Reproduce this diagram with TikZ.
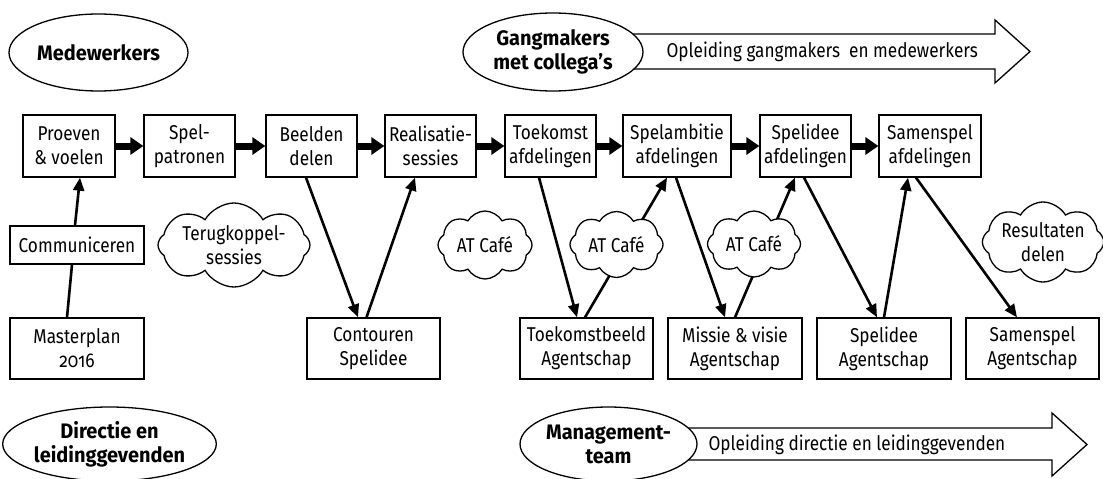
\documentclass[tikz,border=0pt]{standalone}
\usepackage{fontspec}
\setmainfont{Fira Sans}[FakeStretch=0.86, Numbers=OldStyle, BoldFeatures={FakeStretch=0.95}]
\usetikzlibrary{shapes.geometric,shapes.symbols,arrows.meta}

\begin{document}
\begin{tikzpicture}[x=1pt,y=-1pt,
  font=\fontsize{20}{24}\selectfont,
  box/.style={draw, line width=1.3pt, inner sep=0pt, align=center, minimum height=62pt},
  lowbox/.style={box, minimum height=61pt},
  group/.style={draw, ellipse, line width=1.3pt, fill=white, inner sep=0pt, align=center,
                font=\fontsize{21}{24}\selectfont\bfseries},
  idea/.style={cloud, cloud puffs=8, cloud puff arc=120, cloud ignores aspect, draw,
               line width=1.3pt, fill=white, inner sep=0pt, align=center},
  link/.style={line width=2.6pt, -{Triangle[length=13pt,width=11pt]}},
  plain/.style={line width=2.6pt},
  flow/.style={line width=7pt, -{Triangle[length=13pt,width=17pt]}},
  track/.style={draw, line width=1.3pt, fill=white, line join=miter}
]
\useasboundingbox (0,0) rectangle (1103,479);

% training tracks (block arrows), partly covered by the group ellipses
\draw[track] (600,34) -- (995,34) -- (995,20) -- (1030,51.5) -- (995,83) -- (995,69) -- (600,69) -- cycle;
\draw[track] (650,428) -- (1052,428) -- (1052,413) -- (1087,444.5) -- (1052,476) -- (1052,460) -- (650,460) -- cycle;
\node[anchor=west] (trackA) at (663,52) {Opleiding gangmakers\ \ en medewerkers};
\node[anchor=west] (trackB) at (705,445) {Opleiding directie en leidinggevenden};

% groups
\node[group, minimum width=179pt, minimum height=77pt] (medewerkers) at (98.5,52.5) {Medewerkers};
\node[group, minimum width=180pt, minimum height=78pt] (gangmakers) at (553,52) {Gangmakers\\met collega's};
\node[group, minimum width=199pt, minimum height=74pt] (directie) at (109.5,444) {Directie en\\leidinggevenden};
\node[group, minimum width=177pt, minimum height=74pt] (management) at (608.5,444) {Management-\\team};

% main process row
\node[box, minimum width=92pt]  (proeven)     at (69,146)    {Proeven\\\& voelen};
\node[box, minimum width=91pt]  (spel)        at (189.5,146) {Spel-\\patronen};
\node[box, minimum width=91pt]  (beelden)     at (311.5,146) {Beelden\\delen};
\node[box, minimum width=91pt]  (realisatie)  at (430.5,146) {Realisatie-\\sessies};
\node[box, minimum width=91pt]  (toekomst)    at (550.5,146) {Toekomst\\afdelingen};
\node[box, minimum width=108pt] (ambitie)     at (677,146)   {Spelambitie\\afdelingen};
\node[box, minimum width=91pt]  (idee)        at (805.5,146) {Spelidee\\afdelingen};
\node[box, minimum width=102pt] (samen)       at (930,146)   {Samenspel\\afdelingen};

% agency level row
\node[box, minimum width=134pt, minimum height=38pt] (communiceren) at (77,245) {Communiceren};
\node[lowbox, minimum width=134pt] (masterplan)    at (77,348.5)    {Masterplan\\2016};
\node[lowbox, minimum width=133pt] (contouren)     at (373.5,348.5) {Contouren\\Spelidee};
\node[lowbox, minimum width=133pt] (toekomstbeeld) at (586.5,348.5) {Toekomstbeeld\\Agentschap};
\node[lowbox, minimum width=134pt] (missie)        at (735,348.5)   {Missie \& visie\\Agentschap};
\node[lowbox, minimum width=134pt] (ideeAg)        at (884,348.5)   {Spelidee\\Agentschap};
\node[lowbox, minimum width=133pt] (samenAg)       at (1032.5,348.5){Samenspel\\Agentschap};

% flow along the main row
\draw[flow] (proeven.east) -- (spel.west);
\draw[flow] (spel.east) -- (beelden.west);
\draw[flow] (beelden.east) -- (realisatie.west);
\draw[flow] (realisatie.east) -- (toekomst.west);
\draw[flow] (toekomst.east) -- (ambitie.west);
\draw[flow] (ambitie.east) -- (idee.west);
\draw[flow] (idee.east) -- (samen.west);

% links between the rows
\draw[plain] ([xshift=-10pt]masterplan.north) -- ([xshift=-5pt]communiceren.south);
\draw[link] ([xshift=-2pt]communiceren.north) -- ([xshift=11pt]proeven.south);
\draw[link] ([xshift=-5.5pt]beelden.south) -- ([xshift=-15.5pt]contouren.north);
\draw[link] ([xshift=-7pt]contouren.north) -- ([xshift=-15.5pt]realisatie.south);
\draw[link] ([xshift=-11.5pt]toekomst.south) -- ([xshift=-9.5pt]toekomstbeeld.north);
\draw[link] ([xshift=-1.5pt]toekomstbeeld.north) -- ([xshift=-10pt]ambitie.south);
\draw[link] ([xshift=-1pt]ambitie.south) -- ([xshift=-10pt]missie.north);
\draw[link] (missie.north) -- ([xshift=-10.5pt]idee.south);
\draw[link] ([xshift=-1.5pt]idee.south) -- ([xshift=-7pt]ideeAg.north);
\draw[link] (ideeAg.north) -- ([xshift=-22pt]samen.south);
\draw[link] ([xshift=-14pt]samen.south) -- ([xshift=-15.5pt]samenAg.north);

% feedback moments
\node[idea, minimum width=152pt, minimum height=84pt] (terug)  at (234,245)    {Terugkoppel-\\sessies};
\node[idea, minimum width=94pt,  minimum height=68pt] (cafeA)  at (485,245)    {AT Café};
\node[idea, minimum width=93pt,  minimum height=66pt] (cafeB)  at (616.5,244.5){AT Café};
\node[idea, minimum width=93pt,  minimum height=66pt] (cafeC)  at (754,244)    {AT Café};
\node[idea, minimum width=118pt, minimum height=80pt] (result) at (1043,242)   {Resultaten\\delen};
\end{tikzpicture}
\end{document}
